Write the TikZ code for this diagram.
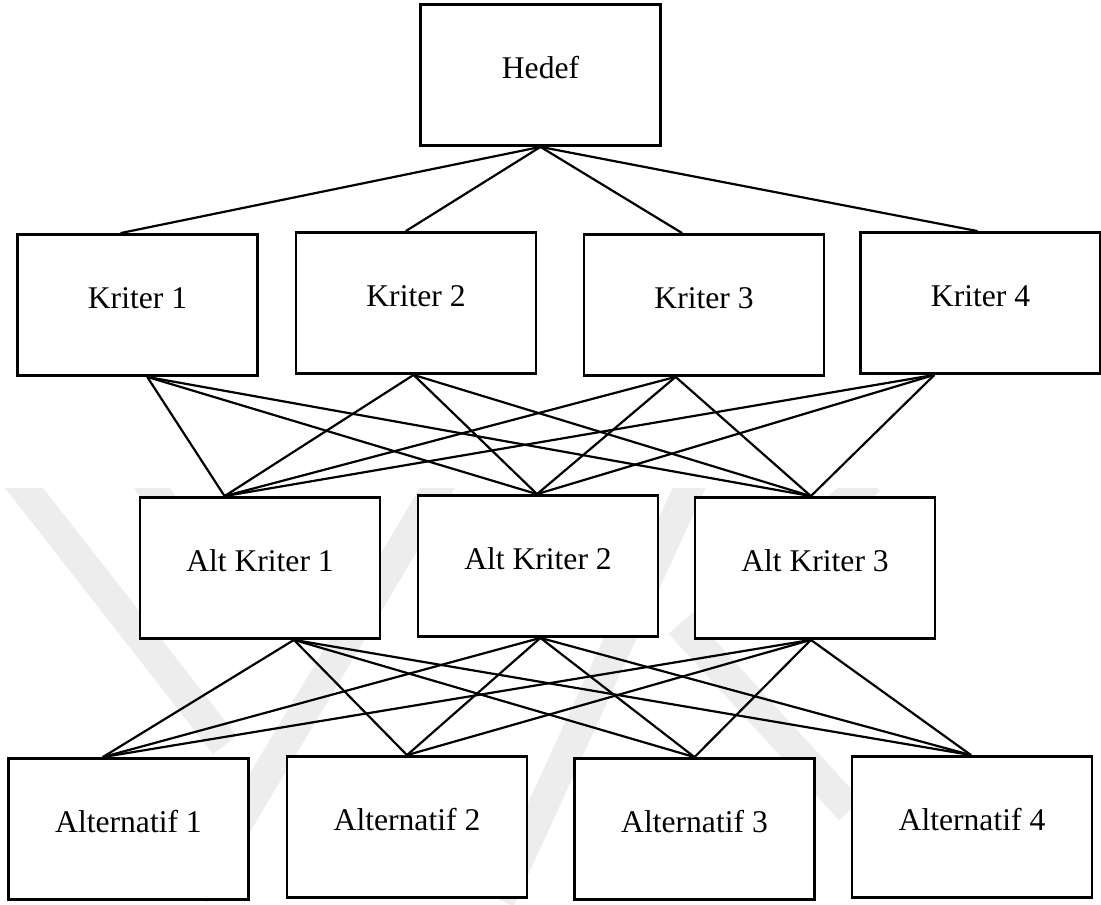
\documentclass[tikz,border=0pt]{standalone}
\usepackage{fontspec}
\setmainfont{Liberation Serif}
\usetikzlibrary{calc}
\begin{document}
\begin{tikzpicture}[x=0.5pt,y=-0.5pt,
  box/.style={draw, line width=1.4pt, minimum width=120pt, minimum height=70.5pt, inner sep=0pt, fill=white},
  lbl/.style={font=\fontsize{15.8pt}{18pt}\selectfont, inner sep=0pt},
  link/.style={line width=1.1pt},
  wm/.style={line width=15pt, color=black!7}]
\useasboundingbox (0,0) rectangle (1101,904);
% faint background watermark
\begin{scope}
\clip (0,488) rectangle (1101,904);
\draw[wm] (10,470) -- (225,745);
\draw[wm] (140,470) -- (240,620);
\draw[wm] (195,895) -- (445,475);
\draw[wm] (500,900) -- (695,475);
\draw[wm] (870,480) -- (690,635) -- (850,810);
\end{scope}
% boxes
\node[box] (hedef) at (540.5,75) {};
\node[box] (k1) at (137.5,305) {};
\node[box] (k2) at (416,303) {};
\node[box] (k3) at (704,305) {};
\node[box] (k4) at (980.5,303) {};
\node[box] (ak1) at (260,568) {};
\node[box] (ak2) at (538,566) {};
\node[box] (ak3) at (815,568) {};
\node[box] (a1) at (128.5,829) {};
\node[box] (a2) at (407,827) {};
\node[box] (a3) at (694.5,829) {};
\node[box] (a4) at (972,827) {};
% labels
\node[lbl] (hedefT) at ($(hedef.center)+(0,-7)$) {Hedef};
\node[lbl] (k1T) at ($(k1.center)+(0,-7)$) {Kriter 1};
\node[lbl] (k2T) at ($(k2.center)+(0,-7)$) {Kriter 2};
\node[lbl] (k3T) at ($(k3.center)+(0,-7)$) {Kriter 3};
\node[lbl] (k4T) at ($(k4.center)+(0,-7)$) {Kriter 4};
\node[lbl] (ak1T) at ($(ak1.center)+(0,-7)$) {Alt Kriter 1};
\node[lbl] (ak2T) at ($(ak2.center)+(0,-7)$) {Alt Kriter 2};
\node[lbl] (ak3T) at ($(ak3.center)+(0,-7)$) {Alt Kriter 3};
\node[lbl] (a1T) at ($(a1.center)+(0,-7)$) {Alternatif 1};
\node[lbl] (a2T) at ($(a2.center)+(0,-7)$) {Alternatif 2};
\node[lbl] (a3T) at ($(a3.center)+(0,-7)$) {Alternatif 3};
\node[lbl] (a4T) at ($(a4.center)+(0,-7)$) {Alternatif 4};
% goal to criteria
\foreach \b/\fb in {k1/0.43, k2/0.458, k3/0.41, k4/0.488}
  \draw[link] (hedef.south) -- ($(\b.north west)!\fb!(\b.north east)$);
% criteria to sub-criteria
\foreach \a/\fa in {k1/0.54, k2/0.49, k3/0.383, k4/0.31}
  \foreach \b/\fb in {ak1/0.354, ak2/0.496, ak3/0.483}
    \draw[link] ($(\a.south west)!\fa!(\a.south east)$) -- ($(\b.north west)!\fb!(\b.north east)$);
% sub-criteria to alternatives
\foreach \a/\fa in {ak1/0.64, ak2/0.51, ak3/0.483}
  \foreach \b/\fb in {a1/0.394, a2/0.5, a3/0.5, a4/0.496}
    \draw[link] ($(\a.south west)!\fa!(\a.south east)$) -- ($(\b.north west)!\fb!(\b.north east)$);
\end{tikzpicture}
\end{document}
